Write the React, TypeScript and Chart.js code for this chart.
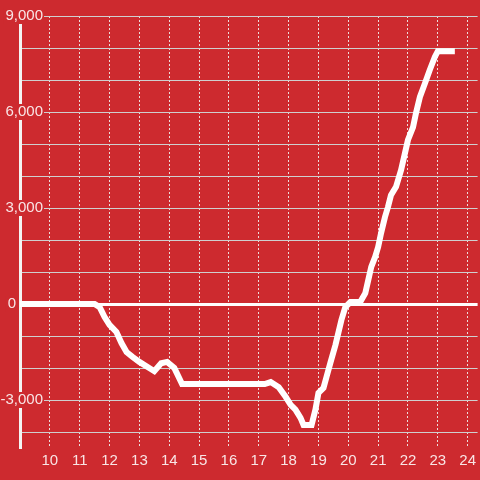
import React, { useEffect, useRef } from "react";
import { Chart, registerables } from "chart.js";

Chart.register(...registerables);

// Hours of the day (x) and cumulative value (y)
const hours = [
  9.0, 11.5, 11.67, 11.83, 12.0, 12.23, 12.4, 12.57, 12.77, 13.0, 13.33, 13.5,
  13.73, 13.93, 14.17, 14.43, 17.2, 17.4, 17.67, 17.9, 18.07, 18.23, 18.4, 18.5,
  18.77, 18.9, 19.0, 19.17, 19.27, 19.4, 19.57, 19.77, 19.9, 20.07, 20.4,
  20.57, 20.67, 20.77, 20.9, 21.0, 21.1, 21.23, 21.33, 21.43, 21.6, 21.77,
  21.9, 22.0, 22.17, 22.27, 22.4, 22.57, 22.73, 22.9, 23.0, 23.47,
];
const values = [
  0, 0, -100, -400, -650, -875, -1220, -1500, -1650, -1810, -2000, -2100,
  -1850, -1810, -2000, -2500, -2500, -2440, -2600, -2900, -3150, -3300, -3560, -3780,
  -3780, -3300, -2780, -2620, -2280, -1840, -1280, -500, -100, 60, 60,
  340, 750, 1160, 1470, 1780, 2220, 2720, 3030, 3400, 3660, 4190,
  4720, 5125, 5530, 5970, 6470, 6900, 7310, 7720, 7900, 7900,
];

const xTicks = [10, 11, 12, 13, 14, 15, 16, 17, 18, 19, 20, 21, 22, 23, 24];
const yTicks = [-4000, -3000, -2000, -1000, 0, 1000, 2000, 3000, 4000, 5000, 6000, 7000, 8000, 9000];
const yLabels = [-3000, 0, 3000, 6000, 9000];

const BG = "#cd2a2f";
const TEXT = "rgba(255,255,255,0.88)";
const FONT_FAMILY = '"Liberation Sans", Arial, sans-serif';

const yLabelPlugin = {
  id: "yLabelPlugin",
  afterDraw(chart: any) {
    const ctx = chart.ctx as CanvasRenderingContext2D;
    const y = chart.scales.y;
    ctx.save();
    ctx.font = `15px ${FONT_FAMILY}`;
    ctx.textBaseline = "middle";
    ctx.textAlign = "right";
    for (const v of yLabels) {
      const py = y.getPixelForValue(v);
      const text = v.toLocaleString("en-US");
      const w = ctx.measureText(text).width;
      const right = v === 0 ? 16 : 43;
      ctx.fillStyle = BG;
      ctx.fillRect(right - w - 2, py - 8, w + 3, 16);
      ctx.fillStyle = TEXT;
      ctx.fillText(text, right, py);
    }
    ctx.restore();
  },
};

export default function App() {
  const ref = useRef<HTMLCanvasElement | null>(null);

  useEffect(() => {
    if (!ref.current) return;
    const chart = new Chart(ref.current, {
      type: "line",
      data: {
        datasets: [
          {
            data: hours.map((h, i) => ({ x: h, y: values[i] })),
            borderColor: "#ffffff",
            borderWidth: 6,
            pointRadius: 0,
            tension: 0,
            borderCapStyle: "square",
            borderJoinStyle: "miter",
            fill: false,
          },
        ],
      },
      options: {
        animation: false,
        responsive: false,
        maintainAspectRatio: false,
        layout: { padding: { top: 16, left: 20, right: 0, bottom: 0 } },
        plugins: {
          legend: { display: false },
          tooltip: { enabled: false },
        },
        scales: {
          x: {
            type: "linear",
            min: 9,
            max: 24 + 1 / 3,
            afterBuildTicks: (scale: any) => {
              scale.ticks = xTicks.map((v) => ({ value: v }));
            },
            afterFit: (scale: any) => {
              scale.height = 32;
            },
            border: { display: false, dash: [2, 2] },
            grid: {
              drawTicks: false,
              color: "rgba(240,240,240,0.9)",
              lineWidth: 1,
            },
            ticks: {
              autoSkip: false,
              maxRotation: 0,
              padding: 4,
              color: TEXT,
              font: { size: 15, family: FONT_FAMILY },
              callback: (v: any) => String(v),
            },
          },
          y: {
            type: "linear",
            min: -4500,
            max: 9000,
            afterBuildTicks: (scale: any) => {
              scale.ticks = yTicks.map((v) => ({ value: v }));
            },
            afterFit: (scale: any) => {
              scale.width = 0;
            },
            border: { display: true, color: "#f4f4f4", width: 3 },
            grid: {
              drawTicks: false,
              color: (c: any) => (c.tick && c.tick.value === 0 ? "#ffffff" : "#cfcfcf"),
              lineWidth: (c: any) => (c.tick && c.tick.value === 0 ? 3 : 1),
            },
            ticks: { display: false },
          },
        },
      },
      plugins: [yLabelPlugin],
    } as any);
    return () => chart.destroy();
  }, []);

  return (
    <div
      style={{
        position: "fixed",
        left: 0,
        top: 0,
        width: 480,
        height: 480,
        background: BG,
      }}
    >
      <canvas ref={ref} width={480} height={480} />
    </div>
  );
}
